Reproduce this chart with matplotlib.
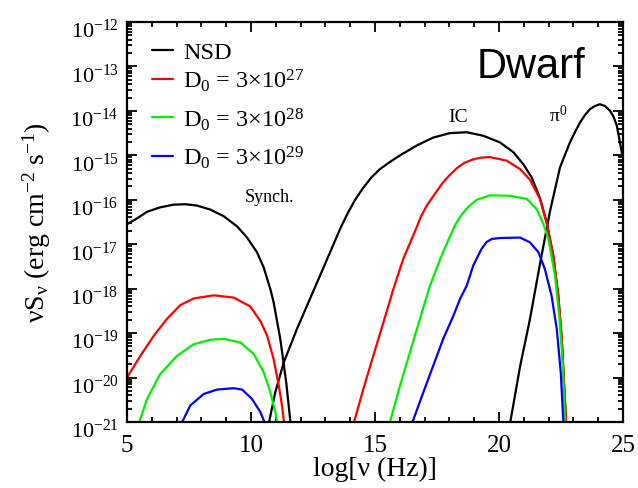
import matplotlib
matplotlib.use("Agg")
import matplotlib.pyplot as plt
import matplotlib.transforms as mtransforms
import numpy as np
from matplotlib.ticker import FixedLocator, NullFormatter, MultipleLocator, LogFormatterMathtext

plt.rcParams['font.family'] = ['Liberation Serif', 'DejaVu Serif']
plt.rcParams['mathtext.fontset'] = 'custom'
plt.rcParams['mathtext.rm'] = 'Liberation Serif'
plt.rcParams['mathtext.it'] = 'Liberation Serif:italic'
plt.rcParams['mathtext.bf'] = 'Liberation Serif:bold'

# ---- data: x = log10(nu / Hz), y = log10(nu S_nu / erg cm^-2 s^-1)
nsd_sync_x = [5.0, 5.40, 5.81, 6.34, 6.88, 7.35, 7.82, 8.36, 8.90, 9.44, 9.84, 10.24, 10.51, 10.78, 10.91, 11.18, 11.42, 11.6]
nsd_sync_y = [-16.55, -16.42, -16.27, -16.17, -16.11, -16.10, -16.13, -16.22, -16.37, -16.60, -16.85, -17.18, -17.52, -18.01, -18.30, -19.13, -20.11, -21.05]

nsd_ic_x = [10.71, 10.98, 11.32, 11.85, 12.3, 12.75, 13.19, 13.59, 13.9, 14.2, 14.5, 14.85, 15.2, 15.6, 16.01, 16.68, 17.35, 18.02, 18.70,
            19.37, 20.04, 20.58, 20.98, 21.32, 21.65, 21.92, 22.19, 22.39, 22.53, 22.62, 22.71]
nsd_ic_y = [-21.05, -20.33, -19.66, -18.91, -18.33, -17.75, -17.18, -16.66, -16.30, -16.00, -15.75, -15.50, -15.31, -15.15, -15.0, -14.78, -14.60, -14.50, -14.48,
            -14.56, -14.71, -14.93, -15.20, -15.50, -15.96, -16.51, -17.26, -18.16, -19.13, -20.11, -21.05]

pi0_x = [20.44, 20.85, 21.25, 21.65, 22.06, 22.46, 22.86, 23.07, 23.27, 23.47, 23.67, 23.87, 24.07, 24.27, 24.48, 24.62, 24.75, 24.95, 25.0]
pi0_y = [-21.05, -19.75, -18.68, -17.45, -16.25, -15.27, -14.71, -14.47, -14.26, -14.09, -13.96, -13.89, -13.85, -13.89, -14.0, -14.13, -14.33, -14.93, -15.05]

red_sync_x = [5.0, 5.54, 6.08, 6.61, 7.15, 7.69, 8.49, 9.30, 9.97, 10.40, 10.65, 10.91, 11.12, 11.25, 11.34]
red_sync_y = [-20.0, -19.51, -19.06, -18.68, -18.37, -18.22, -18.15, -18.20, -18.40, -18.75, -19.06, -19.58, -20.18, -20.63, -21.05]

red_ic_x = [14.13, 14.53, 14.93, 15.34, 15.74, 16.14, 16.65, 16.85, 17.1, 17.4, 17.7, 18.0, 18.3, 18.6, 18.96, 19.3, 19.64, 20.31, 20.85, 21.25,
            21.65, 21.92, 22.19, 22.39, 22.53, 22.62, 22.71]
red_ic_y = [-21.05, -20.26, -19.51, -18.76, -18.01, -17.33, -16.66, -16.38, -16.12, -15.88, -15.64, -15.45, -15.29, -15.17, -15.09, -15.05, -15.04, -15.12, -15.31, -15.55,
            -15.98, -16.51, -17.26, -18.16, -19.13, -20.11, -21.05]

green_sync_x = [5.47, 5.81, 6.34, 7.02, 7.69, 8.36, 8.90, 9.57, 10.11, 10.51, 10.78, 10.98, 11.08]
green_sync_y = [-21.05, -20.48, -19.92, -19.51, -19.25, -19.15, -19.13, -19.21, -19.47, -19.88, -20.33, -20.78, -21.05]

green_ic_x = [15.58, 16.01, 16.41, 16.81, 17.22, 17.69, 18.0, 18.25, 18.5, 18.8, 19.1, 19.64, 20.44, 21.12, 21.52, 21.79, 21.99,
              22.26, 22.43, 22.57, 22.67]
green_ic_y = [-21.05, -20.18, -19.43, -18.68, -17.93, -17.25, -16.85, -16.55, -16.33, -16.14, -16.00, -15.90, -15.91, -15.98, -16.21, -16.55, -16.88,
              -17.71, -18.61, -19.66, -21.05]

blue_sync_x = [7.18, 7.55, 8.09, 8.63, 9.30, 9.64, 10.04, 10.38, 10.58]
blue_sync_y = [-21.05, -20.63, -20.37, -20.27, -20.24, -20.27, -20.48, -20.78, -21.05]

blue_ic_x = [16.48, 16.95, 17.35, 17.75, 18.16, 18.43, 18.70, 18.96, 19.30, 19.5, 19.72, 20.04, 20.85, 21.25, 21.59, 21.85,
             22.12, 22.33, 22.49, 22.6]
blue_ic_y = [-21.05, -20.33, -19.73, -19.13, -18.61, -18.23, -17.93, -17.48, -17.10, -16.95, -16.88, -16.86, -16.85, -16.96, -17.18, -17.56,
             -18.16, -18.91, -19.88, -21.05]

y_decades = list(range(-21, -11))   # tick exponents 10^-21 ... 10^-12

labels = ['NSD',
          r'D$_\mathregular{0}$ = 3$\mathregular{\times}$10$^\mathregular{27}$',
          r'D$_\mathregular{0}$ = 3$\mathregular{\times}$10$^\mathregular{28}$',
          r'D$_\mathregular{0}$ = 3$\mathregular{\times}$10$^\mathregular{29}$']
GREEN = '#00f000'

fig = plt.figure(figsize=(6.38, 4.89), dpi=100)
ax = fig.add_axes([127/638, 1 - 423/489, 496/638, 400/489])

lw = 1.6
def p(x, y, c, label=None):
    return ax.plot(x, 10.0 ** np.asarray(y), color=c, lw=lw, label=label,
                   solid_joinstyle='round', solid_capstyle='round')[0]

h0 = p(nsd_sync_x, nsd_sync_y, 'black', labels[0])
p(nsd_ic_x, nsd_ic_y, 'black')
p(pi0_x, pi0_y, 'black')
h1 = p(red_sync_x, red_sync_y, '#ff0000', labels[1])
p(red_ic_x, red_ic_y, '#ff0000')
h2 = p(green_sync_x, green_sync_y, GREEN, labels[2])
p(green_ic_x, green_ic_y, GREEN)
h3 = p(blue_sync_x, blue_sync_y, '#0000ff', labels[3])
p(blue_ic_x, blue_ic_y, '#0000ff')

ax.set_yscale('log')
ax.set_xlim(5, 25)
ax.set_ylim(1e-21, 1e-12)
ax.xaxis.set_major_locator(MultipleLocator(5))
ax.xaxis.set_minor_locator(MultipleLocator(1))
major = [10.0 ** e for e in y_decades]
minor = [m * 10.0 ** e for e in y_decades[:-1] for m in range(2, 10)]
ax.yaxis.set_major_locator(FixedLocator(major))
ax.yaxis.set_major_formatter(LogFormatterMathtext())
ax.yaxis.set_minor_locator(FixedLocator(minor))
ax.yaxis.set_minor_formatter(NullFormatter())

ax.tick_params(which='both', direction='in', top=True, right=True, width=1.3)
ax.tick_params(which='major', length=7)
ax.tick_params(which='minor', length=3.5)
ax.tick_params(axis='y', labelsize=16, pad=6)
ax.tick_params(axis='x', labelsize=18, pad=9)
for s in ax.spines.values():
    s.set_linewidth(1.6)

ax.set_xlabel('log[ν (Hz)]', fontsize=20)
ax.xaxis.set_label_coords(0.5, -0.085)
ax.set_ylabel(r'νS$_\mathregular{ν}$ (erg cm$^\mathregular{-2}$ s$^\mathregular{-1}$)', fontsize=20)
ax.yaxis.set_label_coords(-0.15, 0.5)

ax.text(0.815, 0.89, 'Dwarf', transform=ax.transAxes, fontsize=30, family='Liberation Sans',
        ha='center', va='center')
ax.text(0.668, 0.765, 'IC', transform=ax.transAxes, fontsize=14, ha='center', va='center')
ax.text(0.87, 0.77, r'π$^\mathregular{0}$', transform=ax.transAxes, fontsize=14, ha='center', va='center')
ax.text(0.288, 0.565, 'Synch.', transform=ax.transAxes, fontsize=13, ha='center', va='center')

common = dict(frameon=False, fontsize=17.5, handlelength=0.85, handletextpad=0.42,
              borderaxespad=0, borderpad=0)
leg1 = ax.legend(handles=[h0], labels=[labels[0]], loc='center left',
                 bbox_to_anchor=(0.0504, 0.925), **common)
ax.add_artist(leg1)
leg2 = ax.legend(handles=[h1, h2, h3], labels=labels[1:], loc='center left',
                 bbox_to_anchor=(0.0504, 0.759), labelspacing=0.5, **common)

# shift y tick labels slightly downward as in the reference
fig.canvas.draw()
off = mtransforms.ScaledTranslation(0, -0.06, fig.dpi_scale_trans)
for t in ax.yaxis.get_major_ticks():
    t.label1.set_transform(t.label1.get_transform() + off)

fig.savefig('out.png', dpi=100)
